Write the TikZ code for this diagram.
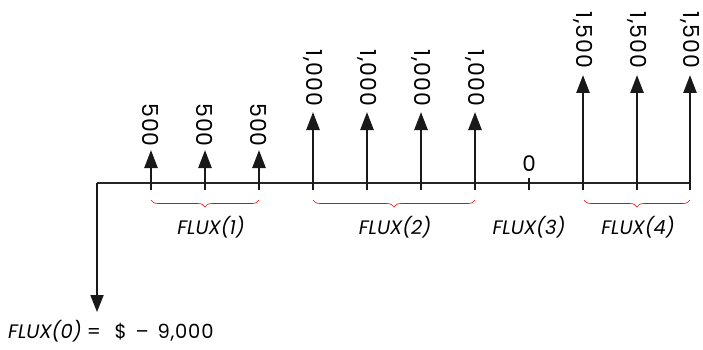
\documentclass[tikz,border=0pt]{standalone}
\usepackage{fontspec}
\setmainfont{Poppins}
\usetikzlibrary{arrows.meta,decorations.pathreplacing}
\begin{document}
\begin{tikzpicture}[x=1pt,y=-1pt,
  upflow/.style={-{Triangle[width=13pt,length=18pt]}, line width=2.6pt, black!90},
  val/.style={rotate=-90, font=\fontsize{22}{22}\selectfont\addfontfeature{LetterSpace=4}, inner sep=0pt},
  flx/.style={font=\itshape\fontsize{19.5}{19.5}\selectfont, inner sep=0pt},
  brc/.style={draw=red, line width=0.6pt, decorate, decoration={brace, amplitude=7pt, mirror}}]
\useasboundingbox (0,0) rectangle (703,350);
% axis
\coordinate (o) at (97,183);
\coordinate (e) at (690,183);
\draw[line width=1.6pt, black!85] (o) -- (e);
% base and tip coordinates
\foreach \i/\t in {1/150,2/150,3/150,4/112,5/112,6/112,7/112,9/75,10/75}{
  \coordinate (b\i) at ({97+54*\i},190);
  \coordinate (h\i) at ({97+54*\i},\t);
}
\coordinate (h11) at (690,75);
\coordinate (b11) at (690,190);
\foreach \i in {1,2,3,4,5,6,7,9,10,11}{
  \draw[upflow] (b\i) -- (h\i);
}
% labels
\foreach \i in {1,2,3}{ \node[val] (l\i) at ({97+54*\i},125) {500}; }
\foreach \i in {4,5,6,7}{ \node[val] (l\i) at ({97+54*\i},78) {1,000}; }
\foreach \i in {9,10}{ \node[val] (l\i) at ({97+54*\i},40) {1,500}; }
\node[val] (l11) at (690,40) {1,500};
% zero tick
\coordinate (z1) at (529,178);
\coordinate (z2) at (529,190);
\draw[line width=2pt, black!90] (z1) -- (z2);
\node[font=\fontsize{21.5}{21.5}\selectfont, inner sep=0pt] (zl) at (529,164) {0};
% braces
\coordinate (br1a) at (151,200); \coordinate (br1b) at (259,200);
\coordinate (br2a) at (313,200); \coordinate (br2b) at (475,200);
\coordinate (br4a) at (584,200); \coordinate (br4b) at (690,200);
\draw[brc] (br1a) -- (br1b);
\draw[brc] (br2a) -- (br2b);
\draw[brc] (br4a) -- (br4b);
\node[flx] (f1) at (211,227) {FLUX(1)};
\node[flx] (f2) at (395,227) {FLUX(2)};
\node[flx] (f3) at (529,227) {FLUX(3)};
\node[flx] (f4) at (638,227) {FLUX(4)};
% initial outflow
\coordinate (d) at (97,312);
\draw[-{Triangle[width=13pt,length=17pt]}, line width=1.8pt, black!90] (o) -- (d);
\node[anchor=west, inner sep=0pt, font=\fontsize{19.5}{19.5}\selectfont] (f0) at (8,331) {\textit{FLUX(0)} =\hspace{0.7em}\$\hspace{0.45em}–\hspace{0.45em}{\addfontfeature{LetterSpace=4}9,000}};
\end{tikzpicture}
\end{document}
